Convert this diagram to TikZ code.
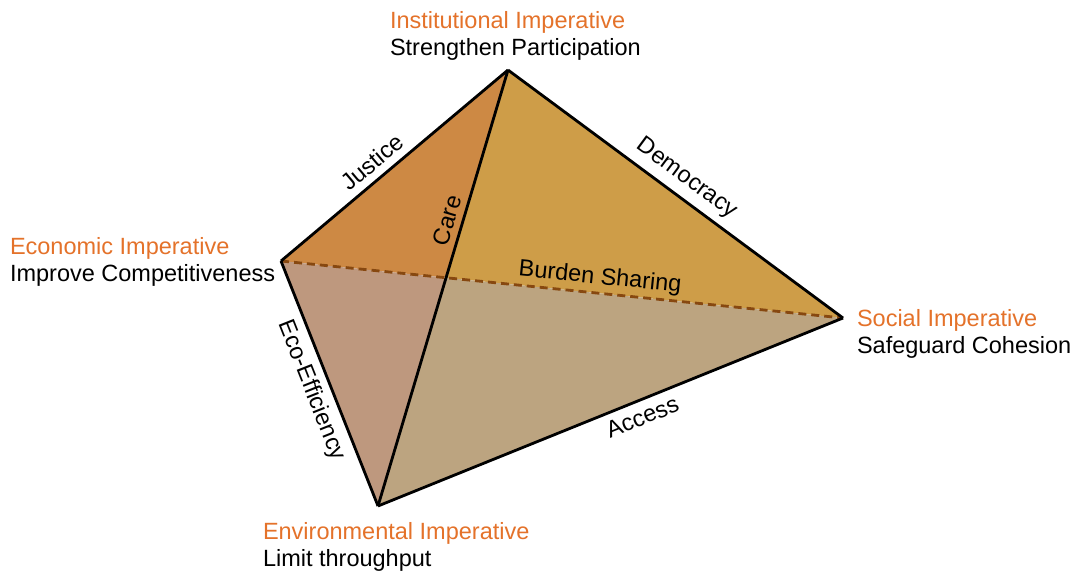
\documentclass[tikz,border=0pt]{standalone}
\usepackage{fontspec}
\setmainfont{Liberation Sans}
\usetikzlibrary{positioning,calc}

\begin{document}
\begin{tikzpicture}[
		x=1pt,y=-1pt,
		line join=miter,
		font=\fontsize{23.5}{27.5}\selectfont,
		edgelbl/.style={sloped, inner sep=7pt},
		vtxlbl/.style={align=left, anchor=north west, inner sep=0pt, outer sep=0pt}
		]
		% ---- colors
		\definecolor{impOrange}{RGB}{228,114,42}
		\definecolor{faceTL}{RGB}{205,137,68}
		\definecolor{faceTR}{RGB}{206,157,72}
		\definecolor{faceBL}{RGB}{190,152,126}
		\definecolor{faceBR}{RGB}{188,164,128}
		\definecolor{hiddenBrown}{RGB}{135,72,16}
		
		% ---- frame (pixel units)
		\useasboundingbox (0,0) rectangle (1075,571);
		
		% ---- vertices of the tetrahedron
		\coordinate (Inst) at (508,70);
		\coordinate (Econ) at (281,261);
		\coordinate (Soc)  at (843,318);
		\coordinate (Env)  at (378,506);
		\coordinate (Mid)  at (intersection of Inst--Env and Econ--Soc);
		
		% ---- faces
		\fill[faceTL] (Inst) -- (Econ) -- (Mid) -- cycle;
		\fill[faceTR] (Inst) -- (Mid) -- (Soc) -- cycle;
		\fill[faceBL] (Econ) -- (Env) -- (Mid) -- cycle;
		\fill[faceBR] (Mid) -- (Env) -- (Soc) -- cycle;
		
		% ---- hidden edge
		\draw[hiddenBrown, line width=2.8pt, dash pattern=on 8pt off 5pt]
		(Econ) -- node[edgelbl, above, pos=0.565, inner sep=3pt, text=black] {Burden Sharing} (Soc);
		
		% ---- visible edges
		\draw[black, line width=2.8pt] (Econ) -- node[edgelbl, above, pos=0.45] {Justice} (Inst);
		\draw[black, line width=2.8pt] (Inst) -- node[edgelbl, above, pos=0.5] {Democracy} (Soc);
		\draw[black, line width=2.8pt] (Env) -- node[edgelbl, above, pos=0.645, inner sep=6pt] {Care} (Inst);
		\draw[black, line width=2.8pt] (Econ) -- node[edgelbl, below, pos=0.5] {Eco-Efficiency} (Env);
		\draw[black, line width=2.8pt] (Env) -- node[edgelbl, below, pos=0.555] {Access} (Soc);
		
		% ---- imperatives at the corners
		\node[vtxlbl] (InstLbl) at (390,11) {\textcolor{impOrange}{Institutional Imperative}\\Strengthen Participation};
		\node[vtxlbl] (EconLbl) at (10,237) {\textcolor{impOrange}{Economic Imperative}\\Improve Competitiveness};
		\node[vtxlbl] (SocLbl)  at (857,309) {\textcolor{impOrange}{Social Imperative}\\Safeguard Cohesion};
		\node[vtxlbl] (EnvLbl)  at (263,522) {\textcolor{impOrange}{Environmental Imperative}\\Limit throughput};
		
	\end{tikzpicture}
\end{document}
